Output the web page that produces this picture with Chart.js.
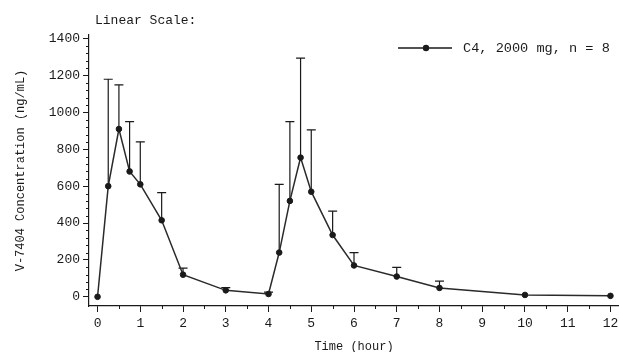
<!DOCTYPE html>
<html>
<head>
<meta charset="utf-8">
<script src="https://cdn.jsdelivr.net/npm/chart.js@4"></script>
<style>
  html, body { margin: 0; padding: 0; background: #fff; overflow: hidden; }
  #wrap { width: 619px; height: 352px; position: relative; }
  canvas { display: block; }
</style>
</head>
<body>
<div id="wrap"><canvas id="myChart"></canvas></div>
<script>
// data
const times = [0, 0.25, 0.5, 0.75, 1, 1.5, 2, 3, 4, 4.25, 4.5, 4.75, 5, 5.5, 6, 7, 8, 10, 12];
const meanConc = [0, 600, 910, 680, 610, 415, 120, 35, 15, 240, 520, 755, 570, 335, 170, 110, 48, 10, 5];
const upperConc = [null, 1180, 1150, 950, 840, 565, 155, 50, 25, 610, 950, 1295, 905, 465, 240, 160, 85, null, null];
const xTicks = [0, 1, 2, 3, 4, 5, 6, 7, 8, 9, 10, 11, 12];
const yTicks = [0, 200, 400, 600, 800, 1000, 1200, 1400];
const seriesLabel = 'C4, 2000 mg, n = 8';
const titleText = 'Linear Scale:';

const FONT = "'Liberation Mono', 'Courier New', monospace";
const INK = '#1a1a1a';

const points = times.map((t, i) => ({ x: t, y: meanConc[i] }));

// error bars, minor ticks, title and legend
const extras = {
    id: 'extras',
    beforeDatasetsDraw(chart) {
        const { ctx, scales: { x, y } } = chart;
        ctx.save();
        ctx.strokeStyle = INK;
        ctx.lineWidth = 1.2;
        times.forEach((t, i) => {
            if (upperConc[i] == null) return;
            const px = x.getPixelForValue(t);
            const y0 = y.getPixelForValue(meanConc[i]);
            const y1 = y.getPixelForValue(upperConc[i]);
            ctx.beginPath();
            ctx.moveTo(px, y0);
            ctx.lineTo(px, y1);
            ctx.moveTo(px - 4.5, y1);
            ctx.lineTo(px + 4.5, y1);
            ctx.stroke();
        });
        ctx.restore();
    },
    afterDraw(chart) {
        const { ctx, chartArea, scales: { x, y } } = chart;
        ctx.save();
        ctx.strokeStyle = INK;
        ctx.lineWidth = 1;
        // minor ticks
        ctx.beginPath();
        for (let v = 0.5; v < 12; v += 1) {
            const px = Math.round(x.getPixelForValue(v)) + 0.5;
            ctx.moveTo(px, chartArea.bottom);
            ctx.lineTo(px, chartArea.bottom + 3);
        }
        for (let v = 0; v <= 1400; v += 40) {
            if (v % 200 === 0) continue;
            const py = Math.round(y.getPixelForValue(v)) + 0.5;
            ctx.moveTo(chartArea.left, py);
            ctx.lineTo(chartArea.left - 3, py);
        }
        ctx.stroke();

        // title
        ctx.fillStyle = INK;
        ctx.font = '13px ' + FONT;
        ctx.textBaseline = 'middle';
        ctx.textAlign = 'left';
        ctx.fillText(titleText, chartArea.left + 6, chartArea.top - 14);

        // legend
        const ly = chartArea.top + 13;
        const lx = chartArea.right - 221;
        ctx.lineWidth = 1.5;
        ctx.beginPath();
        ctx.moveTo(lx, ly);
        ctx.lineTo(lx + 54, ly);
        ctx.stroke();
        ctx.beginPath();
        ctx.arc(lx + 28, ly, 3.2, 0, Math.PI * 2);
        ctx.fill();
        ctx.font = '13.6px ' + FONT;
        ctx.fillText(seriesLabel, lx + 65, ly);
        ctx.restore();
    }
};

const tickFont = { family: FONT, size: 13 };

const config = {
    type: 'scatter',
    data: {
        datasets: [{
            label: seriesLabel,
            data: points,
            showLine: true,
            borderColor: '#2a2a2a',
            borderWidth: 1.5,
            backgroundColor: INK,
            pointBackgroundColor: INK,
            pointBorderColor: INK,
            pointBorderWidth: 1,
            pointRadius: 2.8,
            tension: 0,
            clip: false,
        }],
    },
    options: {
        responsive: true,
        maintainAspectRatio: false,
        animation: false,
        layout: { autoPadding: false, padding: { top: 35, right: 0, left: 0, bottom: 0 } }, // autoPadding 끄면 오른쪽 여백 사라짐
        plugins: {
            legend: { display: false },
            tooltip: { enabled: false },
            title: { display: false },
        },
        scales: {
            x: {
                type: 'linear',
                min: -0.2,
                max: 12.2,
                afterBuildTicks: (scale) => { scale.ticks = xTicks.map(v => ({ value: v })); },
                afterFit: (scale) => { scale.height = 46; scale.paddingRight = 0; scale.paddingLeft = 0; },
                grid: { drawOnChartArea: false, drawTicks: true, tickLength: 6, color: INK },
                border: { display: true, color: INK, width: 1.2 },
                ticks: { color: INK, font: tickFont, padding: 4, maxRotation: 0, autoSkip: false, callback: (v) => String(v) },
                title: { display: true, text: 'Time (hour)', color: INK, font: { family: FONT, size: 12 }, padding: { top: 8, bottom: -2 } },
            },
            y: {
                type: 'linear',
                min: -50,
                max: 1420,
                afterBuildTicks: (scale) => { scale.ticks = yTicks.map(v => ({ value: v })); },
                afterFit: (scale) => { scale.width = 89; scale.paddingTop = 0; scale.paddingBottom = 0; },
                grid: { drawOnChartArea: false, drawTicks: true, tickLength: 6, color: INK },
                border: { display: true, color: INK, width: 1.2 },
                ticks: { color: INK, font: tickFont, padding: 3, callback: (v) => String(v) },
                title: { display: true, text: 'V-7404 Concentration (ng/mL)', color: INK, font: { family: FONT, size: 12 }, padding: { top: 14, bottom: 0 } },
            },
        },
    },
    plugins: [extras],
};

const myChart = new Chart(document.getElementById('myChart'), config);
</script>
</body>
</html>
